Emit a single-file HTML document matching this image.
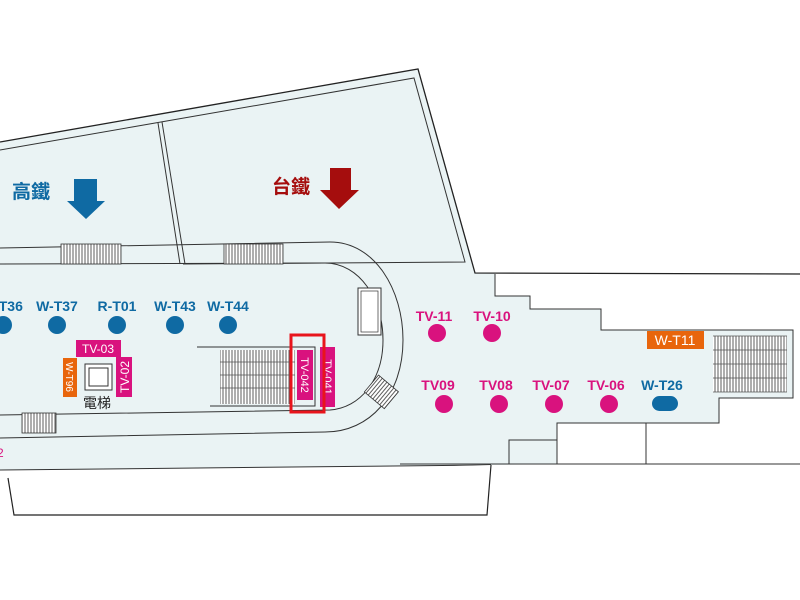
<!DOCTYPE html>
<html><head><meta charset="utf-8"><style>body{margin:0;background:#fff}svg{display:block}text{font-family:"Liberation Sans","Noto Sans CJK TC",sans-serif}</style></head><body>
<svg width="800" height="600" viewBox="0 0 800 600" xmlns="http://www.w3.org/2000/svg">
<defs>
<pattern id="hv" width="3" height="10" patternUnits="userSpaceOnUse"><rect width="3" height="10" fill="#fff"/><line x1="1" y1="0" x2="1" y2="10" stroke="#333" stroke-width="0.8"/></pattern>
</defs>
<path d="M0,142 L418,69 L475,273 L495,273 L495,296 L530,296 L530,309 L601,309 L601,330 L793,330 L793,398 L719,398 L719,423 L557,423 L557,464 L491,465 L0,470 Z" fill="#eaf3f4" stroke="none"/>
<path d="M0,142 L418,69 L475,273 L800,274" fill="none" stroke="#222" stroke-width="1.3"/>
<path d="M0,150 L414,78 L465,262 L183,264" fill="none" stroke="#333" stroke-width="1"/>
<path d="M158,123 L180,264 M162,122 L185,264" fill="none" stroke="#333" stroke-width="1"/>
<path d="M495,274 L495,296 L530,296 L530,309 L601,309 L601,330 L793,330 L793,398 L719,398 L719,423 L557,423 L557,464 M509,464 L509,440 L557,440 M646,423 L646,464 M400,464 L800,464" fill="none" stroke="#333" stroke-width="1"/>
<path d="M0,470 L491,465" stroke="#333" stroke-width="1"/>
<path d="M8,478 L14,515 L487,515 L491,465" fill="#fff" stroke="#222" stroke-width="1.2"/>
<path d="M0,248 L330,242 C375,242 403,290 403,340 C403,395 370,432 325,432 L0,438" fill="none" stroke="#333" stroke-width="1"/>
<path d="M0,264 L325,263 C360,263 383,300 383,340 C383,380 360,408 330,410 L0,415" fill="none" stroke="#333" stroke-width="1"/>
<rect x="61" y="244" width="60" height="20" fill="url(#hv)" stroke="#333" stroke-width="0.8"/>
<rect x="224" y="244" width="59" height="20" fill="url(#hv)" stroke="#333" stroke-width="0.8"/>
<rect x="22" y="413" width="34" height="20" fill="url(#hv)" stroke="#333" stroke-width="0.8"/>
<path d="M197,347 L315,347 L315,406 L210,406" fill="none" stroke="#333" stroke-width="1"/>
<rect x="220" y="350" width="75" height="54" fill="url(#hv)"/>
<path d="M220,362 H295 M220,375 H295 M220,388 H295" stroke="#555" stroke-width="0.8"/>
<rect x="358" y="288" width="23" height="47" fill="#fff" stroke="#333"/>
<rect x="361" y="291" width="17" height="41" fill="#fff" stroke="#333" stroke-width="0.7"/>
<g transform="rotate(40 380 392)"><rect x="368" y="380" width="26" height="22" fill="url(#hv)" stroke="#333" stroke-width="0.8"/></g>
<rect x="85" y="364" width="27" height="26" fill="#fff" stroke="#333" stroke-width="1"/>
<rect x="89" y="368" width="19" height="18" fill="#fff" stroke="#333" stroke-width="1"/>
<text x="97" y="408" font-size="14" text-anchor="middle" fill="#222">電梯</text>
<rect x="76" y="340" width="45" height="17" fill="#d9127e"/>
<text x="98" y="353" font-size="12" text-anchor="middle" fill="#fff">TV-03</text>
<rect x="116" y="357" width="16" height="40" fill="#d9127e"/>
<text transform="translate(129,377) rotate(-90)" font-size="12" text-anchor="middle" fill="#fff">TV-02</text>
<rect x="63" y="358" width="14" height="39" fill="#e8650c"/>
<text transform="translate(66,377) rotate(90)" font-size="10" text-anchor="middle" fill="#fff">W-T96</text>
<rect x="297" y="350" width="16" height="50" fill="#d9127e"/>
<text transform="translate(301,375) rotate(90)" font-size="11" text-anchor="middle" fill="#fff">TV-042</text>
<rect x="320" y="347" width="15" height="60" fill="#d9127e"/>
<text transform="translate(324,377) rotate(90)" font-size="11" text-anchor="middle" fill="#fff">TV-041</text>
<rect x="291" y="335" width="33" height="77" fill="none" stroke="#e8141c" stroke-width="3"/>
<rect x="713" y="336" width="74" height="56" fill="url(#hv)"/>
<path d="M713,336 H787 M713,350 H787 M713,364 H787 M713,378 H787 M713,392 H787" stroke="#555" stroke-width="0.8"/>
<g font-size="14" font-weight="bold" fill="#0f6aa3" text-anchor="middle">
<text x="2" y="311">W-T36</text><text x="57" y="311">W-T37</text><text x="117" y="311">R-T01</text><text x="175" y="311">W-T43</text><text x="228" y="311">W-T44</text>
<text x="662" y="390">W-T26</text>
</g>
<g fill="#0f6aa3"><circle cx="3" cy="325" r="9"/><circle cx="57" cy="325" r="9"/><circle cx="117" cy="325" r="9"/><circle cx="175" cy="325" r="9"/><circle cx="228" cy="325" r="9"/>
<rect x="652" y="396" width="26" height="15" rx="7.5"/></g>
<g font-size="14" font-weight="bold" fill="#d9127e" text-anchor="middle">
<text x="434" y="321">TV-11</text><text x="492" y="321">TV-10</text>
<text x="438" y="390">TV09</text><text x="496" y="390">TV08</text><text x="551" y="390">TV-07</text><text x="606" y="390">TV-06</text>
</g>
<g fill="#d9127e"><circle cx="437" cy="333" r="9"/><circle cx="492" cy="333" r="9"/><circle cx="444" cy="404" r="9"/><circle cx="499" cy="404" r="9"/><circle cx="554" cy="404" r="9"/><circle cx="609" cy="404" r="9"/></g>
<text x="-3" y="457" font-size="12" fill="#d9127e">2</text>
<rect x="647" y="331" width="57" height="18" fill="#e8650c"/>
<text x="675" y="345" font-size="14" text-anchor="middle" fill="#fff">W-T11</text>
<text x="12" y="198" font-size="19" font-weight="bold" fill="#0f6aa3">高鐵</text>
<path d="M74,179 H97 V201 H105 L86,219 L67,201 H74 Z" fill="#0f6aa3"/>
<text x="272" y="193" font-size="19" font-weight="bold" fill="#a50d0d">台鐵</text>
<path d="M330,168 H351 V190 H359 L339,209 L320,190 H330 Z" fill="#a50d0d"/>
</svg>
</body></html>
